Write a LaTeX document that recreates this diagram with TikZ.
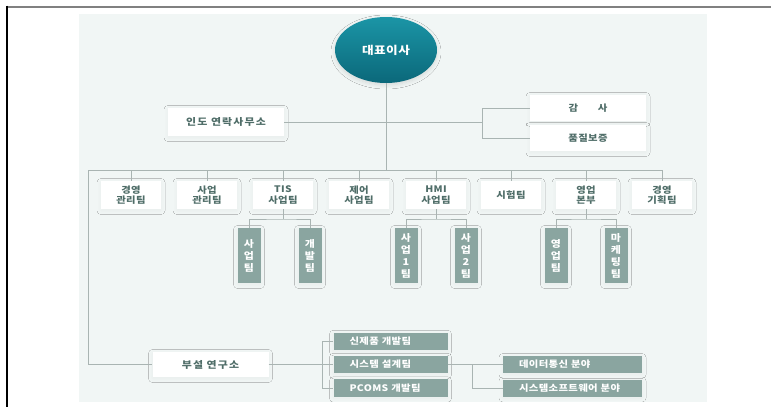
\documentclass[tikz,border=0pt]{standalone}
\usepackage{fontspec}
\setmainfont{Noto Sans CJK KR}[FakeStretch=1.15, LetterSpace=4]
\usetikzlibrary{shapes.geometric,shadows.blur}
\definecolor{bgc}{HTML}{F1F6F5}
\definecolor{linec}{HTML}{A9B4B2}
\definecolor{txt}{HTML}{4F6D68}
\definecolor{gfill}{HTML}{8AA5A0}
\definecolor{ceoA}{HTML}{1B95A6}
\definecolor{ceoB}{HTML}{0B687A}
\tikzset{
  softshadow/.style={blur shadow={shadow blur steps=8, shadow xshift=0pt, shadow yshift=-1.5pt, shadow opacity=4, shadow blur radius=4pt}},
  wbox/.style={fill=white, text=txt, font=\bfseries\fontsize{9}{10.5}\selectfont, align=center, inner sep=1pt, softshadow},
  gbox/.style={fill=gfill, text=white, font=\bfseries\fontsize{9}{10.5}\selectfont, align=center, inner sep=1pt, softshadow},
  topbox/.style={wbox, minimum width=60pt, minimum height=28pt},
  subbox/.style={gbox, minimum width=23pt, minimum height=55pt, font=\bfseries\fontsize{9.5}{12}\selectfont},
  rdbox/.style={gbox, align=left, text width=82pt, inner xsep=16pt, minimum height=17.5pt},
  fieldbox/.style={gbox, align=left, text width=107pt, inner xsep=16pt, minimum height=17pt},
  widebox/.style={wbox, font=\bfseries\fontsize{9.5}{10.5}\selectfont\addfontfeatures{LetterSpace=12}},
  link/.style={draw=linec, line width=0.8pt},
}
\begin{document}
\begin{tikzpicture}[x=1pt, y=-1pt]
\useasboundingbox (0,0) rectangle (771,407);
% page frame and panel
\fill[bgc] (79,14) rectangle (707,402);
\draw[gray, line width=2pt] (7,6.5) -- (771,6.5);
\draw[black, line width=1.4pt] (7,5.5) -- (7,407);

% head office
\node[ellipse, minimum width=102pt, minimum height=66pt, inner sep=0pt,
      top color=ceoA, bottom color=ceoB, text=white,
      font=\bfseries\fontsize{11}{12}\selectfont,
      blur shadow={shadow blur steps=8, shadow xshift=0pt, shadow yshift=-2pt, shadow opacity=12, shadow blur radius=4pt}]
      (ceo) at (386,50) {대표이사};

\node[widebox, minimum width=116pt, minimum height=28pt] (india) at (226,122) {인도 연락사무소};
\node[wbox, minimum width=116pt, minimum height=26pt] (audit) at (588,108) {감\hspace{2.2em}사};
\node[wbox, minimum width=116pt, minimum height=26pt] (qa) at (588,138) {품질보증};

% top-level teams
\node[topbox] (t1) at (131,195) {경영\\관리팀};
\node[topbox] (t2) at (207,195) {사업\\관리팀};
\node[topbox] (t3) at (283,195) {TIS\\사업팀};
\node[topbox] (t4) at (359,195) {제어\\사업팀};
\node[topbox] (t5) at (436,195) {HMI\\사업팀};
\node[topbox] (t6) at (511,195) {시험팀};
\node[topbox] (t7) at (586,195) {영업\\본부};
\node[topbox] (t8) at (662,195) {경영\\기획팀};

% sub teams
\node[subbox] (s1) at (249,255.5) {사\\업\\팀};
\node[subbox] (s2) at (310,255.5) {개\\발\\팀};
\node[subbox] (s3) at (406,255.5) {사\\업\\1\\팀};
\node[subbox] (s4) at (466,255.5) {사\\업\\2\\팀};
\node[subbox] (s5) at (556,255.5) {영\\업\\팀};
\node[subbox] (s6) at (616,255.5) {마\\케\\팅\\팀};

% research institute
\node[widebox, minimum width=116pt, minimum height=25pt] (lab) at (210.5,364.5) {부설 연구소};
\node[rdbox] (r1) at (390.5,341.5) {신제품 개발팀};
\node[rdbox] (r2) at (390.5,364.5) {시스템 설계팀};
\node[rdbox] (r3) at (390.5,388) {PCOMS 개발팀};
\node[fieldbox] (f1) at (572.5,364.5) {데이터통신 분야};
\node[fieldbox] (f2) at (572.5,388) {시스템소프트웨어 분야};

% junction points
\coordinate (busL) at (88,170);
\coordinate (busR) at (662,170);
\coordinate (jA) at (482,122);
\coordinate (jT) at (283,219);
\coordinate (jH) at (436,219);
\coordinate (jS) at (586,219);
\coordinate (jR) at (322,364.5);
\coordinate (jF) at (472,364.5);

% connectors
\draw[link] (ceo.south) -- (ceo.south |- busL);
\draw[link] (india.east) -- (jA);
\draw[link] (audit.west) -| (jA |- audit) -- (jA |- qa) -- (qa.west);
\draw[link] (busL) -- (busR);
\foreach \t in {t1,t2,t3,t4,t5,t6,t7,t8}
  \draw[link] (\t.north) -- (\t.north |- busL);
\draw[link] (busL) |- (lab.west);

\draw[link] (t3.south) -- (jT);
\draw[link] (s1.north) |- (jT) -| (s2.north);
\draw[link] (t5.south) -- (jH);
\draw[link] (s3.north) |- (jH) -| (s4.north);
\draw[link] (t7.south) -- (jS);
\draw[link] (s5.north) |- (jS) -| (s6.north);

\draw[link] (lab.east) -- (jR);
\draw[link] (r1.west) -| (jR |- r1) -- (jR |- r3) -- (r3.west);
\draw[link] (jR |- r2) -- (r2.west);
\draw[link] (r2.east) -- (f1.west);
\draw[link] (jF) |- (f2.west);
\end{tikzpicture}
\end{document}
